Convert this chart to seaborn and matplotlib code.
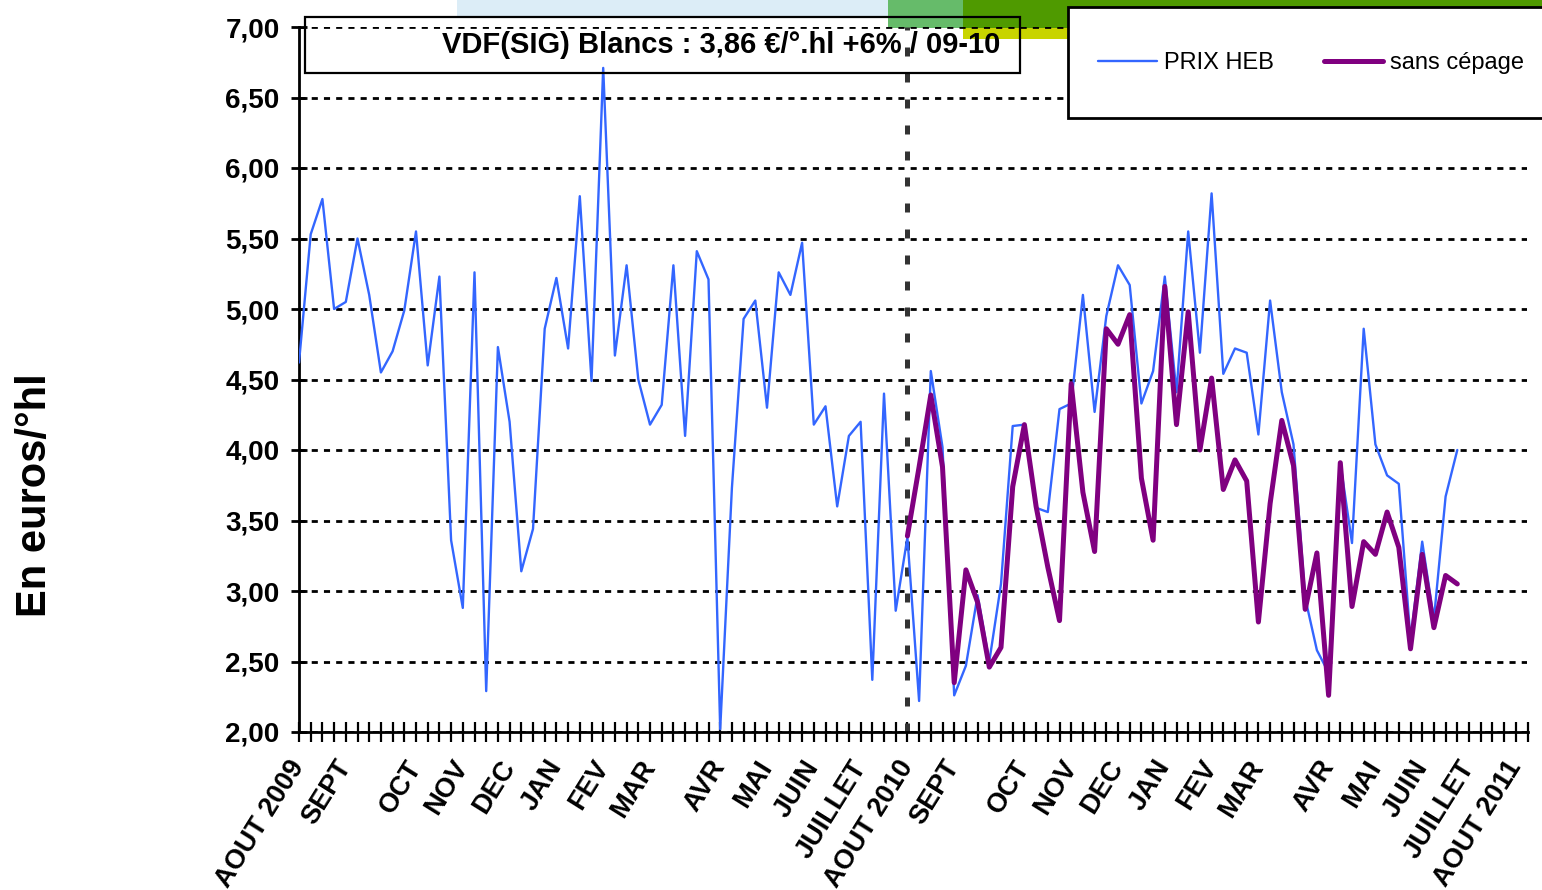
import matplotlib
matplotlib.use("Agg")
import matplotlib.pyplot as plt
import pandas as pd
import seaborn as sns
from matplotlib.patches import Rectangle

# ---------------- data ----------------
prix_heb = [4.62, 5.53, 5.78, 5.00, 5.05, 5.50, 5.10, 4.55, 4.70, 4.99,
            5.55, 4.60, 5.23, 3.36, 2.88, 5.26, 2.29, 4.73, 4.20, 3.14,
            3.44, 4.86, 5.22, 4.72, 5.80, 4.49, 6.71, 4.67, 5.31, 4.50,
            4.18, 4.32, 5.31, 4.10, 5.41, 5.21, 2.02, 3.73, 4.93, 5.06,
            4.30, 5.26, 5.10, 5.47, 4.18, 4.31, 3.60, 4.10, 4.20, 2.37,
            4.40, 2.86, 3.38, 2.22, 4.56, 4.02, 2.26, 2.47, 2.97, 2.50,
            3.05, 4.17, 4.18, 3.59, 3.56, 4.29, 4.33, 5.10, 4.27, 4.95,
            5.31, 5.17, 4.33, 4.56, 5.23, 4.41, 5.55, 4.69, 5.82, 4.54,
            4.72, 4.69, 4.11, 5.06, 4.41, 4.04, 2.95, 2.58, 2.42, 3.91,
            3.34, 4.86, 4.04, 3.82, 3.76, 2.65, 3.35, 2.80, 3.67, 4.00]

sans_cepage_first_week = 52
sans_cepage = [3.39, 3.88, 4.39, 3.88, 2.35, 3.15, 2.92, 2.46, 2.60, 3.74,
               4.18, 3.60, 3.17, 2.79, 4.47, 3.70, 3.28, 4.86, 4.75, 4.96,
               3.80, 3.36, 5.16, 4.18, 4.98, 4.00, 4.51, 3.72, 3.93, 3.78,
               2.78, 3.62, 4.21, 3.89, 2.87, 3.27, 2.26, 3.91, 2.89, 3.35,
               3.26, 3.56, 3.31, 2.59, 3.26, 2.74, 3.11, 3.05]

n_weeks = 105
month_labels = ["AOUT 2009", "SEPT", "OCT", "NOV", "DEC", "JAN", "FEV", "MAR",
                "AVR", "MAI", "JUIN", "JUILLET",
                "AOUT 2010", "SEPT", "OCT", "NOV", "DEC", "JAN", "FEV", "MAR",
                "AVR", "MAI", "JUIN", "JUILLET", "AOUT 2011"]
month_weeks = [0, 4, 10, 14, 18, 22, 26, 30, 36, 40, 44, 48,
               52, 56, 62, 66, 70, 74, 78, 82, 88, 92, 96, 100, 104]
campaign_split_week = 52
y_ticks = [2.0, 2.5, 3.0, 3.5, 4.0, 4.5, 5.0, 5.5, 6.0, 6.5, 7.0]
y_tick_labels = ["2,00", "2,50", "3,00", "3,50", "4,00", "4,50",
                 "5,00", "5,50", "6,00", "6,50", "7,00"]
title_text = "VDF(SIG) Blancs : 3,86 €/°.hl +6% / 09-10"
y_label = "En euros/°hl"
series_names = ["PRIX HEB", "sans cépage"]

# ---------------- style ----------------
sns.set_theme(style="white")
plt.rcParams["font.family"] = ["Liberation Sans", "DejaVu Sans"]
plt.rcParams["text.color"] = "black"
plt.rcParams["axes.labelcolor"] = "black"
plt.rcParams["xtick.color"] = "black"
plt.rcParams["ytick.color"] = "black"

W, H = 1542, 890
fig = plt.figure(figsize=(W / 100, H / 100), dpi=100)
fig.patch.set_facecolor("white")

# decorative header bands
def band(x0, y0, x1, y1, color, z=0, ec="none", lw=0):
    fig.add_artist(Rectangle((x0 / W, 1 - y1 / H), (x1 - x0) / W, (y1 - y0) / H,
                             transform=fig.transFigure, facecolor=color,
                             edgecolor=ec, linewidth=lw, zorder=z))

band(457, 0, 888, 17, "#dcedf7")
band(888, 0, 963, 28, "#66bb6a")
band(963, 0, W, 28, "#4f9a00")
band(963, 28, 1068, 39, "#c8d400")
# legend frame (extends past the right edge, as in the original)
band(1068, 7, 1600, 118, "white", z=8, ec="black", lw=2)

ax = fig.add_axes([299 / W, 1 - 732 / H, (1527.5 - 299) / W, (732 - 27) / H])
ax.set_facecolor("none")

df_blue = pd.DataFrame({"week": range(len(prix_heb)), "prix": prix_heb})
df_purple = pd.DataFrame({"week": range(sans_cepage_first_week,
                                        sans_cepage_first_week + len(sans_cepage)),
                          "prix": sans_cepage})

sns.lineplot(data=df_blue, x="week", y="prix", ax=ax, color="#3366ff",
             linewidth=1.7, label=series_names[0], zorder=3)
sns.lineplot(data=df_purple, x="week", y="prix", ax=ax, color="#800080",
             linewidth=3.6, label=series_names[1], zorder=4)

ax.axvline(campaign_split_week, color="#333333", linewidth=3.6,
           linestyle=(0, (1.8, 3.4)), zorder=2)

ax.set_xlim(0, n_weeks)
ax.set_ylim(2, 7)
ax.set_xlabel("")
ax.set_ylabel("")

ax.yaxis.grid(True, color="black", linestyle=(0, (2.2, 2.2)), linewidth=2)
ax.xaxis.grid(False)

for s in ["top", "right"]:
    ax.spines[s].set_visible(False)
for s in ["left", "bottom"]:
    ax.spines[s].set_color("black")
    ax.spines[s].set_linewidth(2)

ax.set_yticks(y_ticks)
ax.set_yticklabels(y_tick_labels, fontsize=20, fontweight="bold", color="black")
ax.tick_params(axis="y", direction="inout", length=12, width=2, color="black",
               labelcolor="black", pad=8, left=True)

ax.set_xticks(month_weeks)
ax.set_xticks(range(n_weeks + 1), minor=True)
ax.set_xticklabels(month_labels, fontsize=19.5, fontweight="bold", rotation=58,
                   ha="right", va="center", rotation_mode="anchor", color="black")
ax.tick_params(axis="x", which="both", direction="inout", length=14, width=1.6,
               color="black", labelcolor="black", bottom=True, pad=15)

handles, labels = ax.get_legend_handles_labels()
ax.get_legend().remove()

leg = fig.legend(handles, labels, loc="center left",
                 bbox_to_anchor=(1098 / W, 1 - 63 / H), ncol=2, fontsize=17,
                 frameon=False, borderpad=0, handlelength=2.5,
                 handletextpad=0.3, columnspacing=2.1, borderaxespad=0,
                 labelcolor="black")
leg.set_zorder(10)

fig.add_artist(Rectangle((305 / W, 1 - 73 / H), 715 / W, 56 / H,
                         transform=fig.transFigure, fill=False,
                         edgecolor="black", linewidth=1.6, zorder=5))
fig.text(1000 / W, 1 - 45 / H, title_text, ha="right", va="center",
         fontsize=21, fontweight="bold", color="black", zorder=6)

fig.text(35 / W, 1 - 495 / H, y_label, rotation=90, ha="center", va="center",
         fontsize=30, fontweight="bold", color="black")

fig.savefig("out.png", dpi=100)
